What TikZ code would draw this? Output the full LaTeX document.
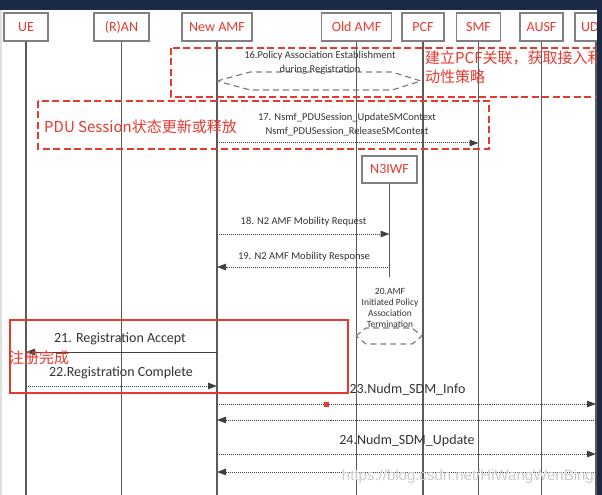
\documentclass[tikz,border=0pt]{standalone}
\usepackage{fontspec}
\setmainfont{Carlito}
\newfontfamily\cjk{Noto Sans CJK SC}
\newfontfamily\wmfont{Liberation Sans}
\usetikzlibrary{positioning,arrows.meta}
\definecolor{navy}{HTML}{1B2A47}
\definecolor{redline}{HTML}{E8392F}
\definecolor{lifegray}{HTML}{5A5A5A}
\definecolor{boxgray}{HTML}{808080}

\begin{document}
\begin{tikzpicture}[
  x=1bp, y=-1bp,
  hdr/.style={draw=boxgray, line width=1.2bp, fill=white, text=redline, font=\fontsize{14bp}{16bp}\selectfont, minimum height=28bp, inner sep=0pt},
  life/.style={draw=lifegray, line width=1.3bp},
  msg/.style={-{Triangle[length=9bp,width=6.5bp]}, draw=black!75, line width=1bp},
  dmsg/.style={msg, densely dotted},
  lbl/.style={font=\fontsize{10.5bp}{13.5bp}\selectfont, text=black!80, inner sep=0pt, align=center},
  biglbl/.style={font=\fontsize{14bp}{16bp}\selectfont, text=black!80, inner sep=0pt},
  reddash/.style={draw=redline, line width=2.2bp, dash pattern=on 7bp off 3.5bp},
  refhex/.style={draw=gray, line width=1.2bp, dash pattern=on 6bp off 4bp},
  note/.style={font=\cjk\fontsize{15bp}{19bp}\selectfont, text=redline, inner sep=0pt, anchor=west, align=left}
]
\useasboundingbox (0,0) rectangle (602,495);
\clip (0,0) rectangle (602,495);
\fill[white] (0,0) rectangle (602,495);

% participants
\node[hdr, minimum width=44bp] (ue) at (26,27) {UE};
\node[hdr, minimum width=55bp] (ran) at (121.5,27) {(R)AN};
\node[hdr, minimum width=70bp] (newamf) at (217,27) {New AMF};
\node[hdr, minimum width=70bp] (oldamf) at (356.5,27) {Old AMF};
\node[hdr, minimum width=42bp] (pcf) at (423,27) {PCF};
\node[hdr, minimum width=44bp] (smf) at (478.5,27) {SMF};
\node[hdr, minimum width=43bp] (ausf) at (541.5,27) {AUSF};
\node[hdr, minimum width=42bp] (udm) at (596,27) {UDM};

% lifelines
\coordinate (bottom) at (0,495);
\foreach \p in {ue,ran,newamf,oldamf,pcf,smf,ausf,udm}
  \draw[life] (\p.south) -- (\p |- bottom);

% N3IWF
\node[hdr, minimum width=55bp, minimum height=27bp] (n3iwf) at (389.5,169.5) {N3IWF};
\coordinate (n3end) at (0,277);
\draw[life] (n3iwf.south) -- (n3iwf |- n3end);

% red notes
\draw[reddash] (171,48) rectangle (620,97);
\draw[reddash] (38,101) rectangle (489,149);
\draw[draw=redline, line width=2bp] (10,320) rectangle (348,393);
\node[note] (pcfnote) at (425,67.5) {建立PCF关联，获取接入和\\动性策略};
\node[note] (pdunote) at (44,127) {PDU Session状态更新或释放};

% 16 / 20
\draw[refhex] (217,81) -- (250,72) -- (392,72) -- (421,81) -- (392,90) -- (250,90) -- cycle;
\node[lbl] (l16) at (320,63) {16.Policy Association Establishment\\during Registration};
\draw[refhex] (356,336) -- (366,328) -- (412,328) -- (422,336) -- (412,344) -- (366,344) -- cycle;
\node[lbl, font=\fontsize{9.5bp}{10.7bp}\selectfont] (l20) at (390,308) {20.AMF\\Initiated Policy\\Association\\Termination};

% messages
\coordinate (y17) at (0,143);
\coordinate (y18) at (0,234);
\coordinate (y19) at (0,267);
\coordinate (y21) at (0,352);
\coordinate (y22) at (0,386);
\coordinate (y23) at (0,404);
\coordinate (y23r) at (0,420);
\coordinate (y24) at (0,454);
\coordinate (y24r) at (0,472);

\node[lbl] (l17) at (347,124.5) {17. Nsmf\_PDUSession\_UpdateSMContext\\Nsmf\_PDUSession\_ReleaseSMContext};
\draw[dmsg] (newamf |- y17) -- (smf |- y17);

\node[lbl] (l18) at (303.5,222) {18. N2 AMF Mobility Request};
\draw[dmsg] (newamf |- y18) -- (n3iwf |- y18);
\node[lbl] (l19) at (304,257) {19. N2 AMF Mobility Response};
\draw[dmsg] (n3iwf |- y19) -- (newamf |- y19);

\node[biglbl] (l21) at (120,339) {21. Registration Accept};
\draw[msg] (newamf |- y21) -- (ue |- y21);
\node[note] (regnote) at (9,358) {注册完成};
\node[biglbl] (l22) at (121,373) {22.Registration Complete};
\draw[dmsg] (ue |- y22) -- (newamf |- y22);

\node[biglbl] (l23) at (407.5,390) {23.Nudm\_SDM\_Info};
\draw[dmsg] (newamf |- y23) -- (udm |- y23);
\draw[dmsg] (udm |- y23r) -- (newamf |- y23r);
\fill[redline] (323.5,401.5) rectangle (328.5,406.5);

\node[biglbl] (l24) at (407,441) {24.Nudm\_SDM\_Update};
\draw[dmsg] (newamf |- y24) -- (udm |- y24);
\draw[dmsg] (udm |- y24r) -- (newamf |- y24r);

\node[font=\wmfont\fontsize{15bp}{17bp}\selectfont, text=gray!40, anchor=east, inner sep=0pt] (wm) at (594,477) {https://blog.csdn.net/HiWangWenBing};

% frame
\fill[navy] (0,0) rectangle (602,10);
\fill[navy] (597,0) rectangle (602,495);
\fill[gray!25] (0,10) rectangle (1.5,495);
\end{tikzpicture}
\end{document}
